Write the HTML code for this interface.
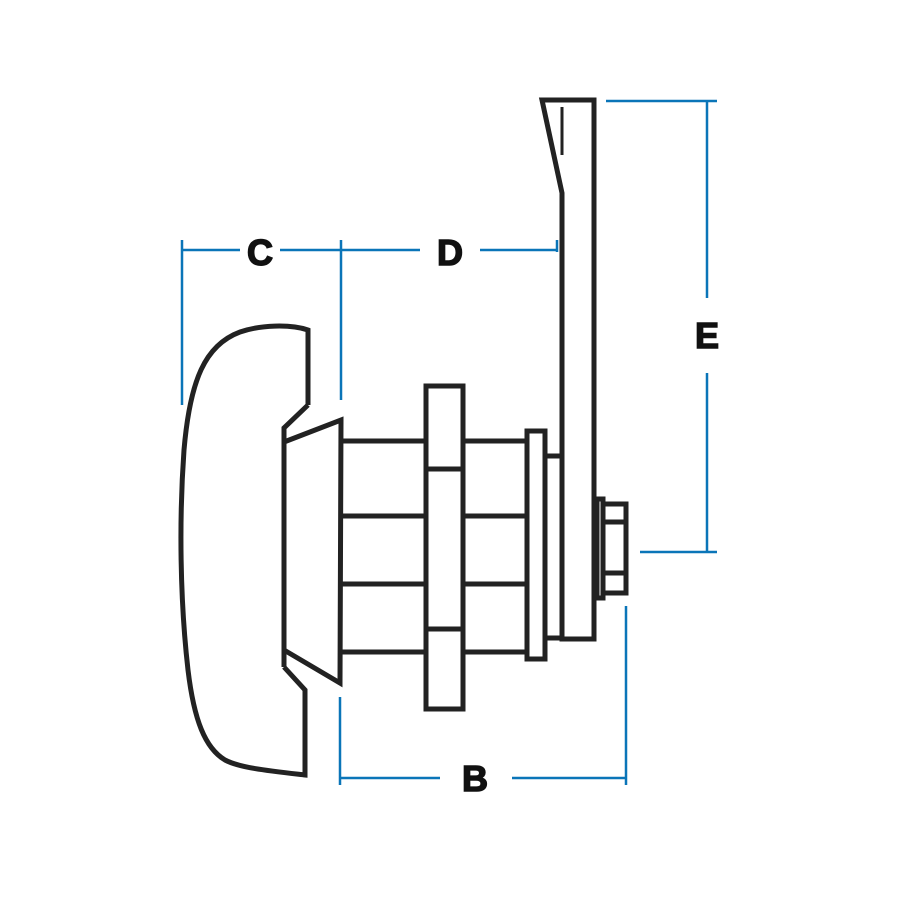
<!DOCTYPE html>
<html><head><style>body{margin:0;background:#fff}svg{display:block}</style></head><body>
<svg width="900" height="900" viewBox="0 0 900 900" xmlns="http://www.w3.org/2000/svg">
<g fill="none" stroke="#222" stroke-width="5" stroke-linejoin="miter">
<path d="M308,405 L308,330 C290,324 260,325 240,332 C205,345 190,380 184,450 C179,520 180,600 188,670 C194,720 205,748 225,760 C240,768 270,771 305,775 L305,690 L284,667"/>
<path d="M308,405 L284,428 L284,667"/>
<path d="M284,442 L341,420 L340,683 L284,650"/>
<line x1="341" y1="441" x2="426" y2="441"/><line x1="463" y1="441" x2="527" y2="441"/>
<line x1="341" y1="516" x2="426" y2="516"/><line x1="463" y1="516" x2="527" y2="516"/>
<line x1="341" y1="584" x2="426" y2="584"/><line x1="463" y1="584" x2="527" y2="584"/>
<line x1="341" y1="652" x2="426" y2="652"/><line x1="463" y1="652" x2="527" y2="652"/>
<rect x="426" y="386" width="37" height="323"/>
<line x1="426" y1="469" x2="463" y2="469"/><line x1="426" y1="629" x2="463" y2="629"/>
<rect x="527" y="431" width="18" height="228"/>
<path d="M545,456 L562,456 M545,638 L562,638"/>
<path d="M542,100 L594,100 L594,639 L562,639 L562,193 Z"/>
<line x1="562" y1="107" x2="562" y2="155" stroke-width="3"/>
<rect x="597" y="499" width="6" height="99"/>
<rect x="603" y="504" width="23" height="89"/>
<line x1="603" y1="522" x2="626" y2="522"/><line x1="603" y1="573" x2="626" y2="573"/>
</g>
<g stroke="#0a75b8" stroke-width="2.5" fill="none">
<path d="M182,240 L182,405 M341,240 L341,400 M182,250 L240,250 M280,250 L420,250 M480,250 L557,250 M557,240 L557,252"/>
<path d="M606,101 L717,101 M707,101 L707,298 M707,373 L707,552 M640,552 L717,552"/>
<path d="M340,697 L340,785 M626,606 L626,785 M340,778 L440,778 M512,778 L626,778"/>
</g>
<g font-family="Liberation Sans, sans-serif" font-weight="bold" font-size="36" fill="#111" stroke="#111" stroke-width="1.5" text-anchor="middle">
<text x="260" y="265">C</text><text x="450" y="265">D</text><text x="707" y="348">E</text><text x="475" y="791">B</text>
</g>
</svg>
</body></html>
